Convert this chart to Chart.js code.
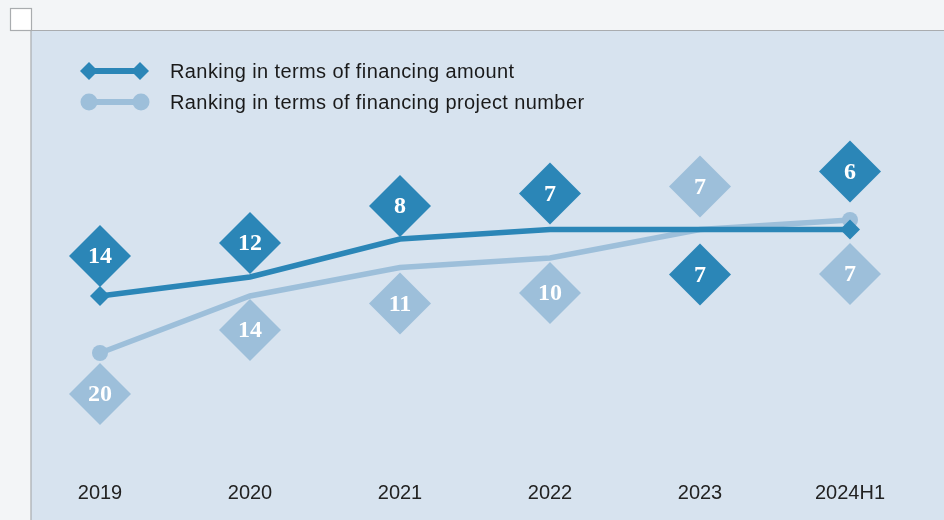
<!DOCTYPE html>
<html>
<head>
<meta charset="utf-8">
<script src="https://cdn.jsdelivr.net/npm/chart.js@4"></script>
<style>
    html, body { margin: 0; padding: 0; background: #f4f6f8; }
    #wrap { position: relative; width: 944px; height: 520px; }
</style>
</head>
<body>
<div id="wrap"><canvas id="rankChart" width="944" height="520"></canvas></div>
<script>
// Data
const years = ['2019', '2020', '2021', '2022', '2023', '2024H1'];
const amountRank = [14, 12, 8, 7, 7, 7];        // line position
const projectRank = [20, 14, 11, 10, 7, 6];     // line position
const amountLabels = ['14', '12', '8', '7', '7', '6'];
const projectLabels = ['20', '14', '11', '10', '7', '7'];

const darkBlue = '#2b86b7';
const lightBlue = '#9dbfda';

// label diamond offset from the line point, in px (style only)
const amountOffset = [-40, -34, -33, -36, 45, -58];
const projectOffset = [41, 34, 36, 35, -43, 54];

// Panel background + corner square
const panelBg = {
    id: 'panelBg',
    beforeDraw(chart) {
        const ctx = chart.ctx;
        ctx.save();
        ctx.fillStyle = '#f3f5f7';
        ctx.fillRect(0, 0, chart.width, chart.height);
        ctx.fillStyle = '#d7e3ef';
        ctx.fillRect(31, 30, chart.width - 31, chart.height - 30);
        ctx.strokeStyle = '#a9acaf';
        ctx.lineWidth = 1.2;
        ctx.beginPath();
        ctx.moveTo(31, chart.height);
        ctx.lineTo(31, 30.5);
        ctx.lineTo(chart.width, 30.5);
        ctx.stroke();
        ctx.fillStyle = '#ffffff';
        ctx.fillRect(10.5, 8.5, 21, 22);
        ctx.strokeRect(10.5, 8.5, 21, 22);
        ctx.restore();
    }
};

function diamond(ctx, x, y, r, color) {
    ctx.fillStyle = color;
    ctx.beginPath();
    ctx.moveTo(x, y - r);
    ctx.lineTo(x + r, y);
    ctx.lineTo(x, y + r);
    ctx.lineTo(x - r, y);
    ctx.closePath();
    ctx.fill();
}

// Value diamonds + legend
const rankLabels = {
    id: 'rankLabels',
    afterDatasetsDraw(chart) {
        const ctx = chart.ctx;
        const xs = chart.scales.x;
        const ys = chart.scales.y;
        ctx.save();
        ctx.font = 'bold 24px "Liberation Serif", "DejaVu Serif", serif';
        ctx.textAlign = 'center';
        ctx.textBaseline = 'middle';
        years.forEach((yr, i) => {
            const x = xs.getPixelForValue(i);
            const ya = ys.getPixelForValue(amountRank[i]) + amountOffset[i];
            diamond(ctx, x, ya, 31, darkBlue);
            ctx.fillStyle = '#ffffff';
            ctx.fillText(amountLabels[i], x, ya + 1);
            const yp = ys.getPixelForValue(projectRank[i]) + projectOffset[i];
            diamond(ctx, x, yp, 31, lightBlue);
            ctx.fillStyle = '#ffffff';
            ctx.fillText(projectLabels[i], x, yp + 1);
        });

        // legend
        ctx.lineWidth = 6;
        ctx.strokeStyle = darkBlue;
        ctx.beginPath();
        ctx.moveTo(88, 71);
        ctx.lineTo(141, 71);
        ctx.stroke();
        diamond(ctx, 89, 71, 9, darkBlue);
        diamond(ctx, 140, 71, 9, darkBlue);
        ctx.strokeStyle = lightBlue;
        ctx.beginPath();
        ctx.moveTo(89, 102);
        ctx.lineTo(141, 102);
        ctx.stroke();
        ctx.fillStyle = lightBlue;
        [89, 141].forEach(cx => {
            ctx.beginPath();
            ctx.arc(cx, 102, 8.5, 0, Math.PI * 2);
            ctx.fill();
        });
        ctx.fillStyle = '#1a1a1a';
        ctx.textAlign = 'left';
        ctx.font = '20px "Liberation Sans", Arial, sans-serif';
        ctx.letterSpacing = '0.4px';
        ctx.fillText('Ranking in terms of financing amount', 170, 72);
        ctx.fillText('Ranking in terms of financing project number', 170, 103);
        ctx.restore();
    }
};

const ctx = document.getElementById('rankChart').getContext('2d');
const rankChart = new Chart(ctx, {
    type: 'line',
    data: {
        labels: years,
        datasets: [
            {
                label: 'Ranking in terms of financing amount',
                data: amountRank,
                borderColor: darkBlue,
                backgroundColor: darkBlue,
                borderWidth: 5.5,
                tension: 0,
                pointStyle: 'rectRot',
                pointRadius: [10, 0, 0, 0, 0, 10],
                pointBorderWidth: 0
            },
            {
                label: 'Ranking in terms of financing project number',
                data: projectRank,
                borderColor: lightBlue,
                backgroundColor: lightBlue,
                borderWidth: 5.5,
                tension: 0,
                pointStyle: 'circle',
                pointRadius: [8, 0, 0, 0, 0, 8],
                pointBorderWidth: 0
            }
        ]
    },
    options: {
        responsive: false,
        animation: false,
        events: [],
        layout: {
            padding: { top: 163, left: 25, right: 19, bottom: 0 }
        },
        plugins: {
            legend: { display: false },
            tooltip: { enabled: false }
        },
        scales: {
            x: {
                offset: true,
                grid: { display: false, drawTicks: false },
                border: { display: false },
                afterFit: s => { s.height = 72; },
                ticks: {
                    color: '#222222',
                    padding: 33,
                    maxRotation: 0,
                    font: { family: '"Liberation Sans", Arial, sans-serif', size: 20 }
                }
            },
            y: {
                display: false,
                reverse: true,
                min: 0,
                max: 30
            }
        }
    },
    plugins: [panelBg, rankLabels]
});
</script>
</body>
</html>
